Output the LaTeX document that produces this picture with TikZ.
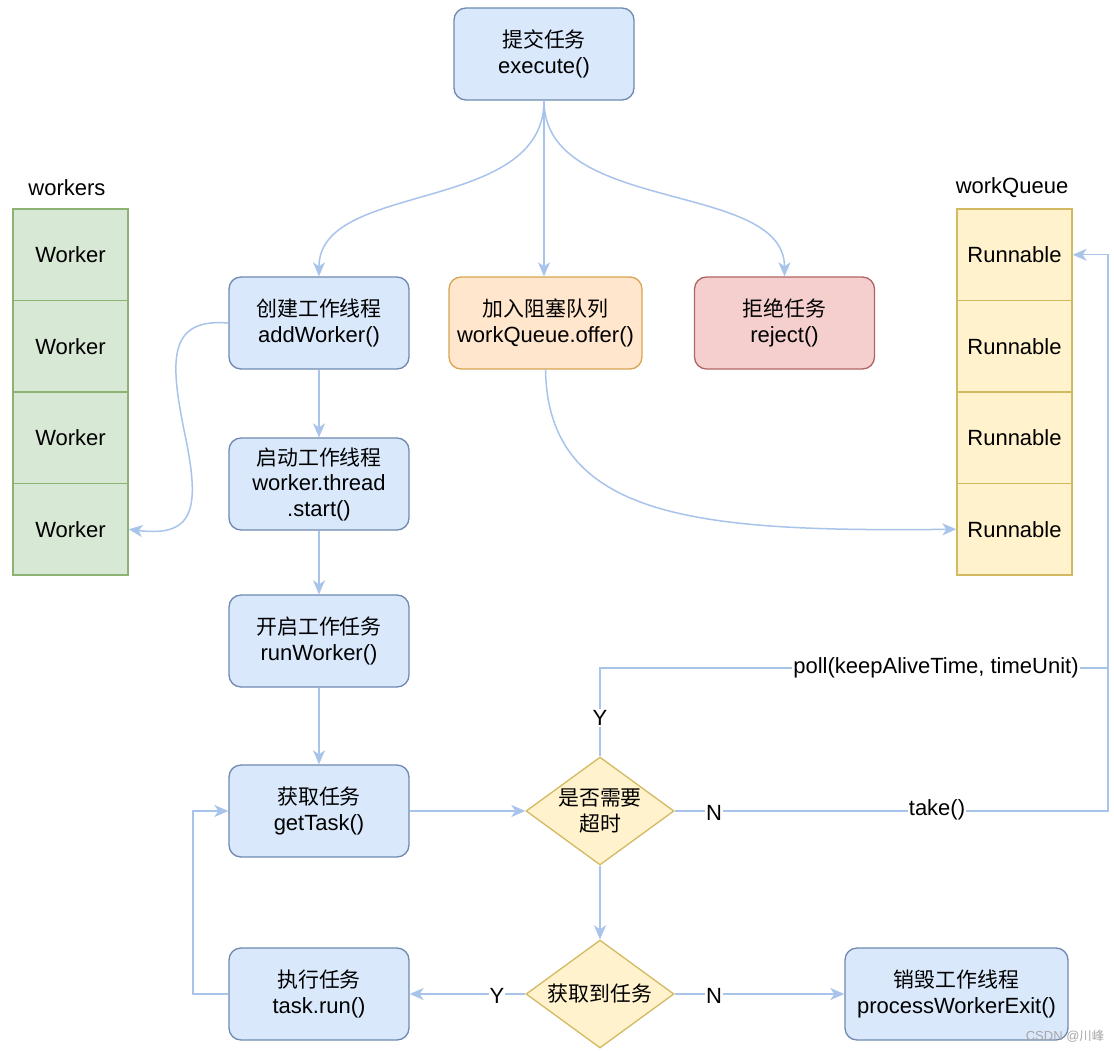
\documentclass[tikz,border=0pt]{standalone}
\usepackage{fontspec}
\setmainfont{Liberation Sans}
\newfontfamily\cjk[Scale=0.95]{Noto Sans CJK SC}
\usetikzlibrary{arrows.meta,shapes.geometric}
\definecolor{bfill}{HTML}{DAE8FC}
\definecolor{bdraw}{HTML}{7089B0}
\definecolor{ofill}{HTML}{FFE6CC}
\definecolor{odraw}{HTML}{D8A550}
\definecolor{rfill}{HTML}{F5CFCE}
\definecolor{rdraw}{HTML}{B26464}
\definecolor{yfill}{HTML}{FFF2CC}
\definecolor{ydraw}{HTML}{D2B962}
\definecolor{gfill}{HTML}{D7E8D4}
\definecolor{gdraw}{HTML}{8DB273}
\definecolor{arr}{HTML}{A9C4EB}
\newcommand\lblfont{\fontsize{22}{25.5}\selectfont}
\begin{document}
\begin{tikzpicture}[x=1pt,y=-1pt,
  rbox/.style={rectangle, rounded corners=12pt, line width=1.3pt, minimum width=180pt, minimum height=92pt, align=center, font=\lblfont, inner sep=0pt},
  bluebox/.style={rbox, draw=bdraw, fill=bfill},
  orangebox/.style={rbox, draw=odraw, fill=ofill},
  redbox/.style={rbox, draw=rdraw, fill=rfill},
  dec/.style={diamond, draw=ydraw, fill=yfill, line width=1.3pt, minimum width=148pt, minimum height=108pt, shape aspect=1.37, inner sep=0pt, align=center, font=\lblfont},
  cell/.style={rectangle, line width=1.3pt, minimum width=115pt, minimum height=91.5pt, inner sep=0pt, font=\lblfont},
  gcell/.style={cell, draw=gdraw, fill=gfill},
  ycell/.style={cell, draw=ydraw, fill=yfill},
  conn/.style={draw=arr, line width=1.5pt, -{Stealth[length=14pt,width=12pt,inset=4pt]}},
  plain/.style={draw=arr, line width=1.5pt},
  lab/.style={fill=white, inner sep=1pt, font=\lblfont}
]
\useasboundingbox (0,0) rectangle (1114,1051);
\fill[white] (0,0) rectangle (1114,1051);

% boxes
\node[bluebox] (exec) at (544,54) {{\cjk 提交任务}\\execute()};
\node[bluebox] (create) at (319,323) {{\cjk 创建工作线程}\\addWorker()};
\node[orangebox, minimum width=193pt] (offer) at (545.5,323) {{\cjk 加入阻塞队列}\\workQueue.offer()};
\node[redbox] (reject) at (784.5,323) {{\cjk 拒绝任务}\\reject()};
\node[bluebox] (start) at (319,484) {{\cjk 启动工作线程}\\worker.thread\\.start()};
\node[bluebox] (run) at (319,641) {{\cjk 开启工作任务}\\runWorker()};
\node[bluebox] (get) at (319,811) {{\cjk 获取任务}\\getTask()};
\node[bluebox] (exe) at (319,994) {{\cjk 执行任务}\\task.run()};
\node[bluebox, minimum width=223pt] (exit) at (956.5,994) {{\cjk 销毁工作线程}\\processWorkerExit()};

% decisions
\node[dec] (d1) at (600,811) {{\cjk 是否需要}\\{\cjk 超时}};
\node[dec] (d2) at (600,994) {{\cjk 获取到任务}};

% workers column
\node[font=\lblfont] (wl) at (67,188) {workers};
\node[gcell] (w1) at (70.5,254.75) {Worker};
\node[gcell] (w2) at (70.5,346.25) {Worker};
\node[gcell] (w3) at (70.5,437.75) {Worker};
\node[gcell] (w4) at (70.5,529.25) {Worker};

% workQueue column
\node[font=\lblfont] (ql) at (1012,188) {workQueue};
\node[ycell] (r1) at (1014.5,254.75) {Runnable};
\node[ycell] (r2) at (1014.5,346.25) {Runnable};
\node[ycell] (r3) at (1014.5,437.75) {Runnable};
\node[ycell] (r4) at (1014.5,529.25) {Runnable};

% connectors from execute
\draw[conn] (exec.south) .. controls (544,215) and (319,180) .. (create.north);
\draw[conn] (exec.south) -- (offer.north -| exec.south);
\draw[conn] (exec.south) .. controls (544,215) and (784.5,180) .. (reject.north);

% create -> workers
\draw[conn] (create.west) .. controls (168,318) and (170,360) .. (184,430) .. controls (200,505) and (197,538) .. (w4.east);

% offer -> runnable
\draw[conn] (offer.south) .. controls (548,520) and (700,532) .. (r4.west);

% main chain
\draw[conn] (create) -- (start);
\draw[conn] (start) -- (run);
\draw[conn] (run) -- (get);
\draw[conn] (get) -- (d1);
\draw[conn] (d1) -- (d2);
\draw[conn] (d2) -- (exe);
\draw[conn] (d2) -- (exit);

% loop back
\coordinate (lb1) at (193,994);
\coordinate (lb2) at (193,811);
\draw[conn] (exe.west) -- (lb1) -- (lb2) -- (get.west);

% poll / take
\coordinate (pa) at (600,668);
\coordinate (pb) at (1108,668);
\coordinate (pc) at (1108,254.75);
\coordinate (tb) at (1108,811);
\draw[conn] (d1.north) -- (pa) -- (pb) -- (pc) -- (r1.east);
\draw[plain] (d1.east) -- (tb) -- (pb);

% labels
\node[lab] (lpoll) at (936,668) {poll(keepAliveTime, timeUnit)};
\node[lab] (ly1) at (600,718) {Y};
\node[lab] (ln1) at (714,813) {N};
\node[lab] (ltake) at (937,810) {take()};
\node[lab] (ly2) at (497,996) {Y};
\node[lab] (ln2) at (714,996) {N};

% watermark
\node[text=gray!70, font=\fontsize{13}{15}\selectfont, inner sep=0pt] (wm) at (1065,1036) {CSDN @{\cjk 川峰}};
\end{tikzpicture}
\end{document}
